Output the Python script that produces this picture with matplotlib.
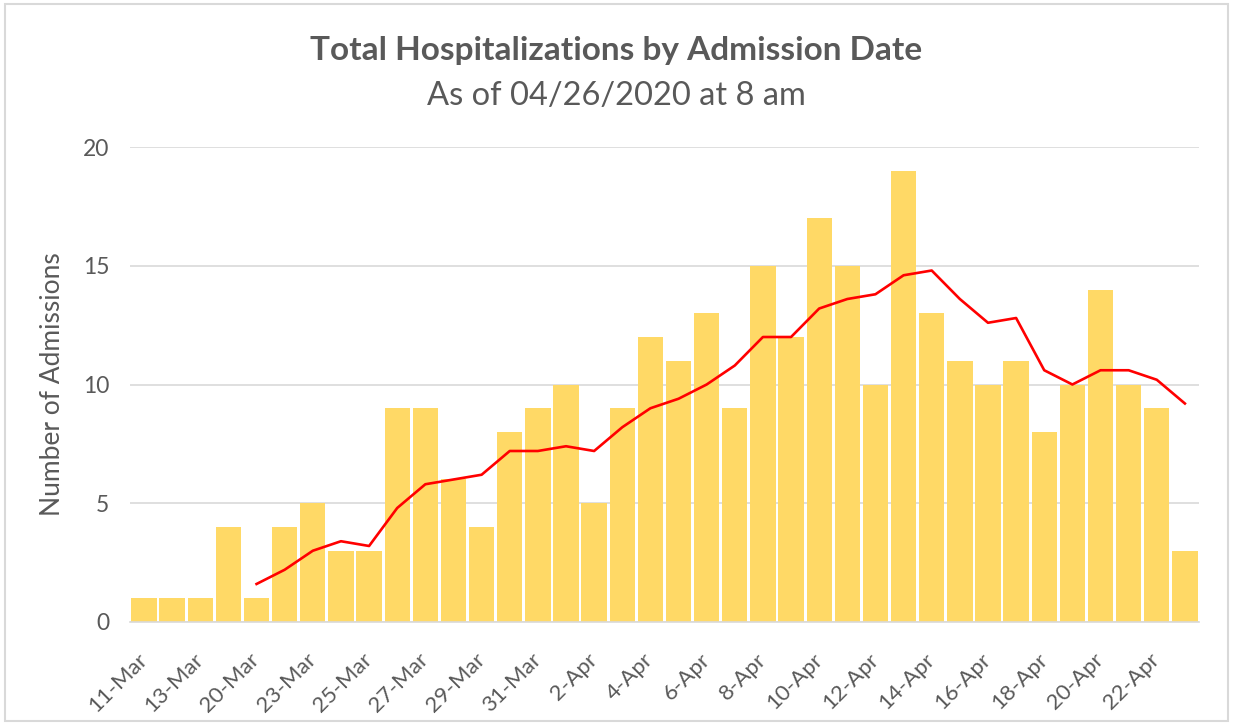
import numpy as np
import matplotlib.pyplot as plt
from matplotlib.patches import Rectangle

# admission dates (only every other one is labelled on the axis)
dates = ["11-Mar", "12-Mar", "13-Mar", "19-Mar", "20-Mar", "22-Mar", "23-Mar", "24-Mar",
         "25-Mar", "26-Mar", "27-Mar", "28-Mar", "29-Mar", "30-Mar", "31-Mar", "1-Apr",
         "2-Apr", "3-Apr", "4-Apr", "5-Apr", "6-Apr", "7-Apr", "8-Apr", "9-Apr",
         "10-Apr", "11-Apr", "12-Apr", "13-Apr", "14-Apr", "15-Apr", "16-Apr", "17-Apr",
         "18-Apr", "19-Apr", "20-Apr", "21-Apr", "22-Apr", "23-Apr"]
admissions = [1, 1, 1, 4, 1, 4, 5, 3, 3, 9, 9, 6, 4, 8, 9, 10, 5, 9, 12, 11, 13, 9,
              15, 12, 17, 15, 10, 19, 13, 11, 10, 11, 8, 10, 14, 10, 9, 3]
# moving average line, starts at the 5th date
avg_start = 4
moving_avg = [1.6, 2.2, 3.0, 3.4, 3.2, 4.8, 5.8, 6.0, 6.2, 7.2, 7.2, 7.4, 7.2, 8.2,
              9.0, 9.4, 10.0, 10.8, 12.0, 12.0, 13.2, 13.6, 13.8, 14.6, 14.8, 13.6,
              12.6, 12.8, 10.6, 10.0, 10.6, 10.6, 10.2, 9.2]
yticks = [0, 5, 10, 15, 20]

plt.rcParams["font.family"] = ["Lato", "DejaVu Sans"]
grey = "#595959"

fig = plt.figure(figsize=(12.33, 7.25), dpi=100)
ax = fig.add_axes([0.1054, 0.1421, 0.8670, 0.6551])

x = np.arange(len(dates))
ax.bar(x, admissions, width=0.9, color="#FFD966", zorder=2)
ax.plot(x[avg_start:avg_start + len(moving_avg)], moving_avg, color="#FF0000", lw=1.9, zorder=3)

ax.set_xlim(-0.5, len(dates) - 0.5)
ax.set_ylim(0, 20)
ax.set_yticks(yticks)
ax.set_xticks(x[::2])
ax.set_xticklabels(dates[::2], rotation=45, ha="right", va="center", rotation_mode="anchor")
ax.tick_params(axis="x", length=0, pad=25, labelsize=16, labelcolor=grey)
ax.tick_params(axis="y", length=0, pad=15, labelsize=16.5, labelcolor=grey)
ax.grid(axis="y", color="#D9D9D9", lw=1.2, zorder=0)
for side in ["top", "right", "left"]:
    ax.spines[side].set_visible(False)
ax.spines["bottom"].set_color("#D9D9D9")
ax.spines["bottom"].set_linewidth(1.2)
ax.set_ylabel("Number of Admissions", fontsize=19, color=grey, labelpad=13)

fig.text(0.5, 0.931, "Total Hospitalizations by Admission Date", ha="center", va="center",
         fontsize=24, fontweight="bold", color=grey)
fig.text(0.5, 0.868, "As of 04/26/2020 at 8 am", ha="center", va="center",
         fontsize=23.5, color=grey)

fig.patches.append(Rectangle((0.004, 0.006), 0.992, 0.988, transform=fig.transFigure,
                             fill=False, edgecolor="#D9D9D9", lw=1.5))

fig.savefig("out.png", dpi=100)
